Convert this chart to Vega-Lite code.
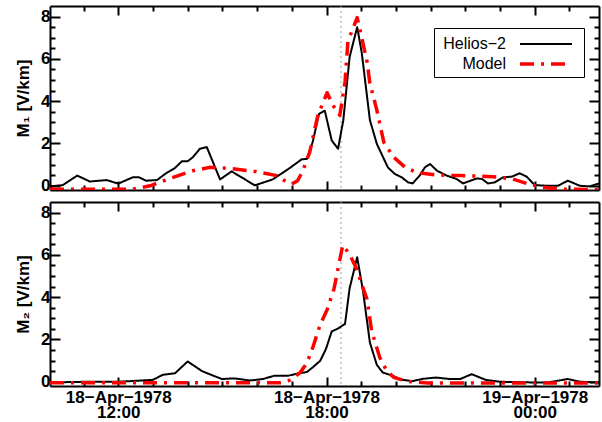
{
  "$schema": "https://vega.github.io/schema/vega-lite/v6.json",
  "background": "white",
  "padding": {"left": 14, "top": 5, "right": 2, "bottom": 2},
  "datasets": {
    "m1": [
      {"t": "1978-04-18T10:02:00Z", "v": -0.03, "s": "Helios−2"},
      {"t": "1978-04-18T10:24:00Z", "v": 0.03, "s": "Helios−2"},
      {"t": "1978-04-18T10:49:00Z", "v": 0.48, "s": "Helios−2"},
      {"t": "1978-04-18T11:11:00Z", "v": 0.2, "s": "Helios−2"},
      {"t": "1978-04-18T11:40:00Z", "v": 0.27, "s": "Helios−2"},
      {"t": "1978-04-18T12:00:00Z", "v": 0.1, "s": "Helios−2"},
      {"t": "1978-04-18T12:25:00Z", "v": 0.4, "s": "Helios−2"},
      {"t": "1978-04-18T12:36:00Z", "v": 0.4, "s": "Helios−2"},
      {"t": "1978-04-18T12:48:00Z", "v": 0.24, "s": "Helios−2"},
      {"t": "1978-04-18T13:07:00Z", "v": 0.27, "s": "Helios−2"},
      {"t": "1978-04-18T13:21:00Z", "v": 0.56, "s": "Helios−2"},
      {"t": "1978-04-18T13:38:00Z", "v": 0.84, "s": "Helios−2"},
      {"t": "1978-04-18T13:50:00Z", "v": 1.16, "s": "Helios−2"},
      {"t": "1978-04-18T14:00:00Z", "v": 1.16, "s": "Helios−2"},
      {"t": "1978-04-18T14:09:00Z", "v": 1.35, "s": "Helios−2"},
      {"t": "1978-04-18T14:21:00Z", "v": 1.75, "s": "Helios−2"},
      {"t": "1978-04-18T14:33:00Z", "v": 1.83, "s": "Helios−2"},
      {"t": "1978-04-18T14:56:00Z", "v": 0.3, "s": "Helios−2"},
      {"t": "1978-04-18T15:16:00Z", "v": 0.68, "s": "Helios−2"},
      {"t": "1978-04-18T15:30:00Z", "v": 0.45, "s": "Helios−2"},
      {"t": "1978-04-18T15:56:00Z", "v": 0.02, "s": "Helios−2"},
      {"t": "1978-04-18T16:27:00Z", "v": 0.3, "s": "Helios−2"},
      {"t": "1978-04-18T16:57:00Z", "v": 0.85, "s": "Helios−2"},
      {"t": "1978-04-18T17:17:00Z", "v": 1.25, "s": "Helios−2"},
      {"t": "1978-04-18T17:26:00Z", "v": 1.27, "s": "Helios−2"},
      {"t": "1978-04-18T17:36:00Z", "v": 2.06, "s": "Helios−2"},
      {"t": "1978-04-18T17:47:00Z", "v": 3.4, "s": "Helios−2"},
      {"t": "1978-04-18T17:57:00Z", "v": 3.55, "s": "Helios−2"},
      {"t": "1978-04-18T18:09:00Z", "v": 2.14, "s": "Helios−2"},
      {"t": "1978-04-18T18:20:00Z", "v": 1.75, "s": "Helios−2"},
      {"t": "1978-04-18T18:29:00Z", "v": 3.1, "s": "Helios−2"},
      {"t": "1978-04-18T18:40:00Z", "v": 6.1, "s": "Helios−2"},
      {"t": "1978-04-18T18:53:00Z", "v": 7.5, "s": "Helios−2"},
      {"t": "1978-04-18T19:01:00Z", "v": 6.27, "s": "Helios−2"},
      {"t": "1978-04-18T19:15:00Z", "v": 3.1, "s": "Helios−2"},
      {"t": "1978-04-18T19:27:00Z", "v": 1.98, "s": "Helios−2"},
      {"t": "1978-04-18T19:46:00Z", "v": 0.87, "s": "Helios−2"},
      {"t": "1978-04-18T19:58:00Z", "v": 0.56, "s": "Helios−2"},
      {"t": "1978-04-18T20:10:00Z", "v": 0.4, "s": "Helios−2"},
      {"t": "1978-04-18T20:21:00Z", "v": 0.16, "s": "Helios−2"},
      {"t": "1978-04-18T20:29:00Z", "v": 0.11, "s": "Helios−2"},
      {"t": "1978-04-18T20:41:00Z", "v": 0.48, "s": "Helios−2"},
      {"t": "1978-04-18T20:50:00Z", "v": 0.87, "s": "Helios−2"},
      {"t": "1978-04-18T20:59:00Z", "v": 1.03, "s": "Helios−2"},
      {"t": "1978-04-18T21:11:00Z", "v": 0.71, "s": "Helios−2"},
      {"t": "1978-04-18T21:28:00Z", "v": 0.48, "s": "Helios−2"},
      {"t": "1978-04-18T21:45:00Z", "v": 0.32, "s": "Helios−2"},
      {"t": "1978-04-18T21:56:00Z", "v": 0.11, "s": "Helios−2"},
      {"t": "1978-04-18T22:20:00Z", "v": 0.35, "s": "Helios−2"},
      {"t": "1978-04-18T22:29:00Z", "v": 0.32, "s": "Helios−2"},
      {"t": "1978-04-18T22:39:00Z", "v": 0.11, "s": "Helios−2"},
      {"t": "1978-04-18T22:51:00Z", "v": 0.16, "s": "Helios−2"},
      {"t": "1978-04-18T23:05:00Z", "v": 0.4, "s": "Helios−2"},
      {"t": "1978-04-18T23:20:00Z", "v": 0.43, "s": "Helios−2"},
      {"t": "1978-04-18T23:34:00Z", "v": 0.59, "s": "Helios−2"},
      {"t": "1978-04-18T23:46:00Z", "v": 0.43, "s": "Helios−2"},
      {"t": "1978-04-19T00:00:00Z", "v": 0.03, "s": "Helios−2"},
      {"t": "1978-04-19T00:21:00Z", "v": 0.0, "s": "Helios−2"},
      {"t": "1978-04-19T00:40:00Z", "v": 0.0, "s": "Helios−2"},
      {"t": "1978-04-19T00:57:00Z", "v": 0.24, "s": "Helios−2"},
      {"t": "1978-04-19T01:18:00Z", "v": 0.0, "s": "Helios−2"},
      {"t": "1978-04-19T01:35:00Z", "v": -0.03, "s": "Helios−2"},
      {"t": "1978-04-19T01:51:00Z", "v": 0.11, "s": "Helios−2"},
      {"t": "1978-04-18T10:02:00Z", "v": -0.16, "s": "Model"},
      {"t": "1978-04-18T12:25:00Z", "v": -0.16, "s": "Model"},
      {"t": "1978-04-18T12:55:00Z", "v": 0.0, "s": "Model"},
      {"t": "1978-04-18T13:35:00Z", "v": 0.4, "s": "Model"},
      {"t": "1978-04-18T14:09:00Z", "v": 0.71, "s": "Model"},
      {"t": "1978-04-18T14:38:00Z", "v": 0.87, "s": "Model"},
      {"t": "1978-04-18T15:13:00Z", "v": 0.82, "s": "Model"},
      {"t": "1978-04-18T15:56:00Z", "v": 0.68, "s": "Model"},
      {"t": "1978-04-18T16:34:00Z", "v": 0.48, "s": "Model"},
      {"t": "1978-04-18T16:52:00Z", "v": 0.16, "s": "Model"},
      {"t": "1978-04-18T17:00:00Z", "v": 0.08, "s": "Model"},
      {"t": "1978-04-18T17:10:00Z", "v": 0.24, "s": "Model"},
      {"t": "1978-04-18T17:19:00Z", "v": 0.71, "s": "Model"},
      {"t": "1978-04-18T17:31:00Z", "v": 1.59, "s": "Model"},
      {"t": "1978-04-18T17:45:00Z", "v": 3.33, "s": "Model"},
      {"t": "1978-04-18T18:01:00Z", "v": 4.4, "s": "Model"},
      {"t": "1978-04-18T18:11:00Z", "v": 3.81, "s": "Model"},
      {"t": "1978-04-18T18:23:00Z", "v": 3.33, "s": "Model"},
      {"t": "1978-04-18T18:32:00Z", "v": 4.92, "s": "Model"},
      {"t": "1978-04-18T18:37:00Z", "v": 6.83, "s": "Model"},
      {"t": "1978-04-18T18:53:00Z", "v": 7.95, "s": "Model"},
      {"t": "1978-04-18T19:01:00Z", "v": 6.98, "s": "Model"},
      {"t": "1978-04-18T19:10:00Z", "v": 5.87, "s": "Model"},
      {"t": "1978-04-18T19:15:00Z", "v": 4.84, "s": "Model"},
      {"t": "1978-04-18T19:27:00Z", "v": 3.57, "s": "Model"},
      {"t": "1978-04-18T19:39:00Z", "v": 2.06, "s": "Model"},
      {"t": "1978-04-18T19:56:00Z", "v": 1.35, "s": "Model"},
      {"t": "1978-04-18T20:16:00Z", "v": 0.87, "s": "Model"},
      {"t": "1978-04-18T20:36:00Z", "v": 0.63, "s": "Model"},
      {"t": "1978-04-18T21:11:00Z", "v": 0.51, "s": "Model"},
      {"t": "1978-04-18T21:51:00Z", "v": 0.48, "s": "Model"},
      {"t": "1978-04-18T22:48:00Z", "v": 0.43, "s": "Model"},
      {"t": "1978-04-18T23:22:00Z", "v": 0.32, "s": "Model"},
      {"t": "1978-04-18T23:46:00Z", "v": 0.11, "s": "Model"},
      {"t": "1978-04-19T00:09:00Z", "v": -0.05, "s": "Model"},
      {"t": "1978-04-19T00:43:00Z", "v": -0.16, "s": "Model"},
      {"t": "1978-04-19T01:51:00Z", "v": -0.18, "s": "Model"}
    ],
    "m2": [
      {"t": "1978-04-18T10:02:00Z", "v": -0.03, "s": "Helios−2"},
      {"t": "1978-04-18T11:06:00Z", "v": 0.0, "s": "Helios−2"},
      {"t": "1978-04-18T12:00:00Z", "v": 0.0, "s": "Helios−2"},
      {"t": "1978-04-18T13:00:00Z", "v": 0.09, "s": "Helios−2"},
      {"t": "1978-04-18T13:17:00Z", "v": 0.33, "s": "Helios−2"},
      {"t": "1978-04-18T13:38:00Z", "v": 0.4, "s": "Helios−2"},
      {"t": "1978-04-18T14:00:00Z", "v": 0.96, "s": "Helios−2"},
      {"t": "1978-04-18T14:25:00Z", "v": 0.5, "s": "Helios−2"},
      {"t": "1978-04-18T14:35:00Z", "v": 0.39, "s": "Helios−2"},
      {"t": "1978-04-18T14:59:00Z", "v": 0.13, "s": "Helios−2"},
      {"t": "1978-04-18T15:20:00Z", "v": 0.16, "s": "Helios−2"},
      {"t": "1978-04-18T15:48:00Z", "v": 0.06, "s": "Helios−2"},
      {"t": "1978-04-18T16:10:00Z", "v": 0.13, "s": "Helios−2"},
      {"t": "1978-04-18T16:29:00Z", "v": 0.28, "s": "Helios−2"},
      {"t": "1978-04-18T16:53:00Z", "v": 0.28, "s": "Helios−2"},
      {"t": "1978-04-18T17:10:00Z", "v": 0.39, "s": "Helios−2"},
      {"t": "1978-04-18T17:26:00Z", "v": 0.46, "s": "Helios−2"},
      {"t": "1978-04-18T17:36:00Z", "v": 0.68, "s": "Helios−2"},
      {"t": "1978-04-18T17:49:00Z", "v": 0.99, "s": "Helios−2"},
      {"t": "1978-04-18T17:59:00Z", "v": 1.55, "s": "Helios−2"},
      {"t": "1978-04-18T18:09:00Z", "v": 2.38, "s": "Helios−2"},
      {"t": "1978-04-18T18:20:00Z", "v": 2.52, "s": "Helios−2"},
      {"t": "1978-04-18T18:32:00Z", "v": 2.74, "s": "Helios−2"},
      {"t": "1978-04-18T18:40:00Z", "v": 4.43, "s": "Helios−2"},
      {"t": "1978-04-18T18:53:00Z", "v": 5.89, "s": "Helios−2"},
      {"t": "1978-04-18T19:03:00Z", "v": 4.3, "s": "Helios−2"},
      {"t": "1978-04-18T19:15:00Z", "v": 1.85, "s": "Helios−2"},
      {"t": "1978-04-18T19:27:00Z", "v": 0.8, "s": "Helios−2"},
      {"t": "1978-04-18T19:37:00Z", "v": 0.44, "s": "Helios−2"},
      {"t": "1978-04-18T19:55:00Z", "v": 0.28, "s": "Helios−2"},
      {"t": "1978-04-18T20:09:00Z", "v": 0.1, "s": "Helios−2"},
      {"t": "1978-04-18T20:28:00Z", "v": 0.03, "s": "Helios−2"},
      {"t": "1978-04-18T20:47:00Z", "v": 0.14, "s": "Helios−2"},
      {"t": "1978-04-18T21:09:00Z", "v": 0.2, "s": "Helios−2"},
      {"t": "1978-04-18T21:33:00Z", "v": 0.13, "s": "Helios−2"},
      {"t": "1978-04-18T21:51:00Z", "v": 0.13, "s": "Helios−2"},
      {"t": "1978-04-18T22:11:00Z", "v": 0.36, "s": "Helios−2"},
      {"t": "1978-04-18T22:35:00Z", "v": 0.09, "s": "Helios−2"},
      {"t": "1978-04-18T23:00:00Z", "v": 0.0, "s": "Helios−2"},
      {"t": "1978-04-18T23:52:00Z", "v": -0.03, "s": "Helios−2"},
      {"t": "1978-04-19T00:23:00Z", "v": -0.03, "s": "Helios−2"},
      {"t": "1978-04-19T00:57:00Z", "v": 0.13, "s": "Helios−2"},
      {"t": "1978-04-19T01:18:00Z", "v": 0.0, "s": "Helios−2"},
      {"t": "1978-04-19T01:51:00Z", "v": -0.03, "s": "Helios−2"},
      {"t": "1978-04-18T10:02:00Z", "v": -0.05, "s": "Model"},
      {"t": "1978-04-18T16:39:00Z", "v": -0.05, "s": "Model"},
      {"t": "1978-04-18T16:57:00Z", "v": 0.08, "s": "Model"},
      {"t": "1978-04-18T17:14:00Z", "v": 0.42, "s": "Model"},
      {"t": "1978-04-18T17:26:00Z", "v": 0.88, "s": "Model"},
      {"t": "1978-04-18T17:36:00Z", "v": 1.6, "s": "Model"},
      {"t": "1978-04-18T17:49:00Z", "v": 2.7, "s": "Model"},
      {"t": "1978-04-18T18:01:00Z", "v": 3.4, "s": "Model"},
      {"t": "1978-04-18T18:13:00Z", "v": 4.4, "s": "Model"},
      {"t": "1978-04-18T18:21:00Z", "v": 5.5, "s": "Model"},
      {"t": "1978-04-18T18:28:00Z", "v": 6.45, "s": "Model"},
      {"t": "1978-04-18T18:39:00Z", "v": 6.07, "s": "Model"},
      {"t": "1978-04-18T18:51:00Z", "v": 5.4, "s": "Model"},
      {"t": "1978-04-18T19:01:00Z", "v": 4.6, "s": "Model"},
      {"t": "1978-04-18T19:10:00Z", "v": 3.9, "s": "Model"},
      {"t": "1978-04-18T19:18:00Z", "v": 2.4, "s": "Model"},
      {"t": "1978-04-18T19:32:00Z", "v": 1.15, "s": "Model"},
      {"t": "1978-04-18T19:44:00Z", "v": 0.52, "s": "Model"},
      {"t": "1978-04-18T19:56:00Z", "v": 0.21, "s": "Model"},
      {"t": "1978-04-18T20:19:00Z", "v": 0.02, "s": "Model"},
      {"t": "1978-04-18T20:54:00Z", "v": -0.06, "s": "Model"},
      {"t": "1978-04-19T01:51:00Z", "v": -0.06, "s": "Model"}
    ],
    "marker": [{"t": "1978-04-18T18:25:00Z"}]
  },
  "config": {
    "view": {"stroke": null},
    "font": "Liberation Sans",
    "axis": {
      "labelFont": "Liberation Sans", "labelFontSize": 17, "labelFontWeight": "bold", "labelColor": "black",
      "titleFont": "Liberation Sans", "titleFontSize": 17, "titleFontWeight": "bold", "titleColor": "black",
      "domainColor": "black", "domainWidth": 2, "tickColor": "black", "tickWidth": 2,
      "grid": false, "labelOverlap": false, "labelFlush": false
    },
    "legend": {
      "orient": "none", "legendX": 384, "legendY": 22,
      "strokeColor": "black", "fillColor": "white", "padding": 5,
      "symbolType": "M -2.6 0 L 2.6 0", "symbolSize": 400,
      "labelFont": "Liberation Sans", "labelFontSize": 16, "labelFontWeight": "normal", "labelColor": "black",
      "labelAlign": "right", "labelOffset": -52, "symbolOffset": 95, "rowPadding": 0
    }
  },
  "spacing": 7,
  "resolve": {"legend": {"color": "independent", "strokeDash": "independent", "strokeWidth": "independent"}},
  "vconcat": [
    {
      "width": 549, "height": 184,
      "resolve": {"axis": {"x": "independent", "y": "independent"}},
      "layer": [
        {
          "data": {"name": "marker"},
          "mark": {"type": "rule", "color": "#a0a0a0", "strokeDash": [2, 3], "strokeWidth": 1},
          "encoding": {"x": {"field": "t", "type": "temporal", "axis": null}}
        },
        {
          "data": {"name": "m1"},
          "transform": [{"filter": "datum.s == 'Helios−2'"}],
          "mark": {"type": "line", "clip": true, "strokeJoin": "round"},
          "encoding": {
            "x": {"field": "t", "type": "temporal",
              "scale": {"type": "utc", "domain": [{"year": 1978, "month": 4, "date": 18, "hours": 10, "minutes": 2, "utc": true}, {"year": 1978, "month": 4, "date": 19, "hours": 1, "minutes": 51, "utc": true}]},
              "axis": {"orient": "bottom", "labels": false, "title": null, "tickCount": 16,
                "tickSize": {"condition": {"test": "utchours(datum.value) % 6 == 0", "value": -9}, "value": -5}}},
            "y": {"field": "v", "type": "quantitative",
              "scale": {"domain": [-0.2, 8.5], "nice": false, "zero": false},
              "axis": {"orient": "left", "title": "M₁ [V/km]", "values": [0, 0.5, 1, 1.5, 2, 2.5, 3, 3.5, 4, 4.5, 5, 5.5, 6, 6.5, 7, 7.5, 8],
                "labelExpr": "datum.value % 2 == 0 ? format(datum.value, 'd') : ''",
                "tickSize": {"condition": {"test": "datum.value % 2 == 0", "value": -10}, "value": -5},
                "labelPadding": 10, "titlePadding": 8}},
            "color": {"field": "s", "type": "nominal", "title": null, "scale": {"domain": ["Helios−2", "Model"], "range": ["#000000", "#ff0000"]}},
            "strokeDash": {"field": "s", "type": "nominal", "title": null, "scale": {"domain": ["Helios−2", "Model"], "range": [[1, 0], [14, 7, 3, 7]]}},
            "strokeWidth": {"field": "s", "type": "nominal", "title": null, "scale": {"domain": ["Helios−2", "Model"], "range": [2, 3.5]}}
          }
        },
        {
          "data": {"name": "m1"},
          "transform": [{"filter": "datum.s == 'Model'"}],
          "mark": {"type": "line", "clip": true, "strokeJoin": "round"},
          "encoding": {
            "x": {"field": "t", "type": "temporal",
              "axis": {"orient": "top", "labels": false, "title": null, "tickCount": 16,
                "tickSize": {"condition": {"test": "utchours(datum.value) % 6 == 0", "value": -9}, "value": -5}}},
            "y": {"field": "v", "type": "quantitative",
              "axis": {"orient": "right", "labels": false, "title": null, "values": [0, 0.5, 1, 1.5, 2, 2.5, 3, 3.5, 4, 4.5, 5, 5.5, 6, 6.5, 7, 7.5, 8],
                "tickSize": {"condition": {"test": "datum.value % 2 == 0", "value": -10}, "value": -5}}},
            "color": {"field": "s", "type": "nominal", "title": null},
            "strokeDash": {"field": "s", "type": "nominal", "title": null},
            "strokeWidth": {"field": "s", "type": "nominal", "title": null}
          }
        }
      ]
    },
    {
      "width": 549, "height": 184,
      "resolve": {"axis": {"x": "independent", "y": "independent"}},
      "layer": [
        {
          "data": {"name": "marker"},
          "mark": {"type": "rule", "color": "#a0a0a0", "strokeDash": [2, 3], "strokeWidth": 1},
          "encoding": {"x": {"field": "t", "type": "temporal", "axis": null}}
        },
        {
          "data": {"name": "m2"},
          "transform": [{"filter": "datum.s == 'Helios−2'"}],
          "mark": {"type": "line", "clip": true, "strokeJoin": "round"},
          "encoding": {
            "x": {"field": "t", "type": "temporal",
              "scale": {"type": "utc", "domain": [{"year": 1978, "month": 4, "date": 18, "hours": 10, "minutes": 2, "utc": true}, {"year": 1978, "month": 4, "date": 19, "hours": 1, "minutes": 51, "utc": true}]},
              "axis": {"orient": "bottom", "title": null, "tickCount": 16,
                "tickSize": {"condition": {"test": "utchours(datum.value) % 6 == 0", "value": -9}, "value": -5},
                "labelExpr": "utchours(datum.value) % 6 == 0 ? [utcFormat(datum.value, '%d−%b−%Y'), utcFormat(datum.value, '%H:%M')] : ''",
                "labelPadding": 12, "labelLineHeight": 15}},
            "y": {"field": "v", "type": "quantitative",
              "scale": {"domain": [-0.2, 8.5], "nice": false, "zero": false},
              "axis": {"orient": "left", "title": "M₂ [V/km]", "values": [0, 0.5, 1, 1.5, 2, 2.5, 3, 3.5, 4, 4.5, 5, 5.5, 6, 6.5, 7, 7.5, 8],
                "labelExpr": "datum.value % 2 == 0 ? format(datum.value, 'd') : ''",
                "tickSize": {"condition": {"test": "datum.value % 2 == 0", "value": -10}, "value": -5},
                "labelPadding": 10, "titlePadding": 8}},
            "color": {"field": "s", "type": "nominal", "legend": null, "scale": {"domain": ["Helios−2", "Model"], "range": ["#000000", "#ff0000"]}},
            "strokeDash": {"field": "s", "type": "nominal", "legend": null, "scale": {"domain": ["Helios−2", "Model"], "range": [[1, 0], [14, 7, 3, 7]]}},
            "strokeWidth": {"field": "s", "type": "nominal", "legend": null, "scale": {"domain": ["Helios−2", "Model"], "range": [2, 3.5]}}
          }
        },
        {
          "data": {"name": "m2"},
          "transform": [{"filter": "datum.s == 'Model'"}],
          "mark": {"type": "line", "clip": true, "strokeJoin": "round"},
          "encoding": {
            "x": {"field": "t", "type": "temporal",
              "axis": {"orient": "top", "labels": false, "title": null, "tickCount": 16,
                "tickSize": {"condition": {"test": "utchours(datum.value) % 6 == 0", "value": -9}, "value": -5}}},
            "y": {"field": "v", "type": "quantitative",
              "axis": {"orient": "right", "labels": false, "title": null, "values": [0, 0.5, 1, 1.5, 2, 2.5, 3, 3.5, 4, 4.5, 5, 5.5, 6, 6.5, 7, 7.5, 8],
                "tickSize": {"condition": {"test": "datum.value % 2 == 0", "value": -10}, "value": -5}}},
            "color": {"field": "s", "type": "nominal", "legend": null},
            "strokeDash": {"field": "s", "type": "nominal", "legend": null},
            "strokeWidth": {"field": "s", "type": "nominal", "legend": null}
          }
        }
      ]
    }
  ]
}
